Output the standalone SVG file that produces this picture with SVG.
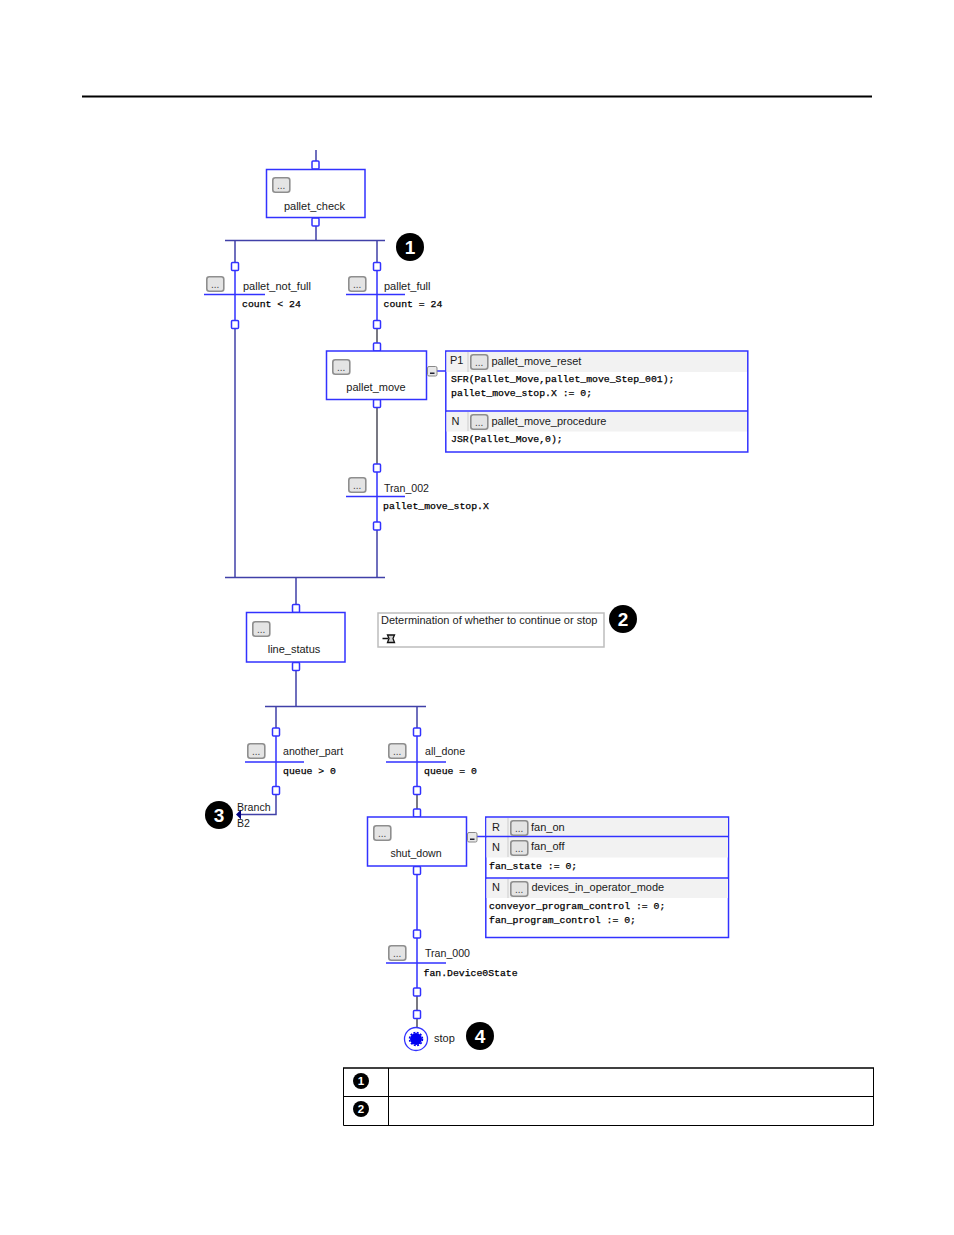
<svg xmlns="http://www.w3.org/2000/svg" xmlns:xlink="http://www.w3.org/1999/xlink" width="954" height="1235" viewBox="0 0 954 1235">
<style>
text{font-family:"Liberation Sans",Arial,sans-serif;font-size:11px;fill:#1a1a1a}
.n{font-size:10.6px}
.code{font-family:"Liberation Mono","Courier New",monospace;font-size:9.8px;fill:#000;stroke:#000;stroke-width:0.25}
.box{fill:#fff;stroke:#3232ff;stroke-width:1.5}
.port{fill:#fff;stroke:#3232ff;stroke-width:1.5}
.b{fill:none;stroke:#3232ff;stroke-width:1.5}
.r{fill:none;stroke:#4040a8;stroke-width:1.5}
.d{fill:none;stroke:#40404f;stroke-width:1.4}
.hd{fill:#f2f2f2}
.sep{stroke:#d8d8d8;stroke-width:1.5}
.num{font-weight:bold;font-size:19px;fill:#fff;text-anchor:middle}
.num2{font-weight:bold;font-size:11.5px;fill:#fff;text-anchor:middle}
.c{text-anchor:middle}
</style>
<defs>
<g id="btn"><rect x="0.8" y="0.8" width="17" height="14.4" rx="2.5" fill="#e4e4e4" stroke="#8e8e8e" stroke-width="1.6"/><text x="9.2" y="11.5" class="c" style="font-size:10px;fill:#444">...</text></g>
<g id="mini"><rect x="0.5" y="0.5" width="9.5" height="9.5" rx="1.5" fill="#e8e8e8" stroke="#888"/><rect x="3" y="6.500" width="4.500" height="1.500" fill="#223"/></g>
<rect id="p" x="-3.500" y="-4" width="7" height="8" rx="1" class="port"/>
</defs>
<line x1="82" y1="96.500" x2="872" y2="96.500" stroke="#000" stroke-width="2"/>

<g id="connectors">
<path class="r" d="M316 150V162M316 226V240M225 240.500H385M235 240V262M377 240V262"/>
<path class="b" d="M235 271V320M204 294.500H265M377 271V320M346 294.500H405"/>
<path class="d" d="M377 329V343M377 407V464"/>
<path class="r" d="M235 329V577"/>
<path class="b" d="M377 472V522M346 496.500H405"/>
<path class="r" d="M377 530V577M225 577.500H385M296 578V605M296 671V706M265 706.500H426M276 707V728M417 707V728"/>
<path class="b" d="M276 736V787M245 762H304M417 736V787M386 762H446"/>
<path class="r" d="M276 795V814.500H240"/>
<path fill="#000080" d="M236 814.500L241 809.500V819.500Z"/>
<path class="d" d="M417 795V809"/>
<path class="b" d="M417 874V930M417 938V988M386 963H446"/>
<path class="d" d="M417 996V1011M417 1019V1028"/>
<path class="b" d="M437 371H446M477 836.500H486"/>
</g>

<g id="ports">
<use xlink:href="#p" x="315.500" y="165"/><use xlink:href="#p" x="315.500" y="222"/>
<use xlink:href="#p" x="235" y="266.500"/><use xlink:href="#p" x="235" y="324.500"/>
<use xlink:href="#p" x="377" y="266.500"/><use xlink:href="#p" x="377" y="324.500"/>
<use xlink:href="#p" x="377" y="347"/><use xlink:href="#p" x="377" y="403.500"/>
<use xlink:href="#p" x="377" y="468"/><use xlink:href="#p" x="377" y="526"/>
<use xlink:href="#p" x="296" y="608.500"/><use xlink:href="#p" x="296" y="666.500"/>
<use xlink:href="#p" x="276" y="732"/><use xlink:href="#p" x="276" y="790.500"/>
<use xlink:href="#p" x="417" y="732"/><use xlink:href="#p" x="417" y="790.500"/>
<use xlink:href="#p" x="417" y="813"/><use xlink:href="#p" x="417" y="870.500"/>
<use xlink:href="#p" x="417" y="934"/><use xlink:href="#p" x="417" y="992"/>
<use xlink:href="#p" x="417" y="1014.500"/>
</g>

<g id="pallet_check"><rect class="box" x="266.500" y="169.500" width="98.500" height="48"/><use xlink:href="#btn" x="272" y="177"/><text class="c" x="314.500" y="210">pallet_check</text></g>
<g id="pallet_not_full"><use xlink:href="#btn" x="206" y="276"/><text x="243" y="290">pallet_not_full</text><text class="code" x="242" y="307">count &lt; 24</text></g>
<g id="pallet_full"><use xlink:href="#btn" x="348" y="276"/><text x="384" y="290">pallet_full</text><text class="code" x="383.500" y="307">count = 24</text></g>
<g id="marker1"><circle cx="410" cy="247" r="14" fill="#000"/><text class="num" x="410" y="253.500">1</text></g>

<g id="pallet_move"><rect class="box" x="326.500" y="351" width="100" height="48.500"/><use xlink:href="#btn" x="332" y="359"/><text class="c" x="376" y="391">pallet_move</text><use xlink:href="#mini" x="427" y="366"/></g>
<g id="pallet_move_actions">
<rect class="box" x="445.800" y="351" width="302" height="101"/>
<rect class="hd" x="446.500" y="352" width="300.500" height="20"/><rect class="hd" x="446.500" y="412" width="300.500" height="19.500"/>
<line class="sep" x1="468" y1="352" x2="468" y2="372"/><line class="sep" x1="468" y1="412" x2="468" y2="431"/>
<line x1="446" y1="411" x2="748" y2="411" stroke="#3232ff" stroke-width="1.500"/>
<text x="450" y="364">P1</text><use xlink:href="#btn" x="470" y="354"/><text x="491.500" y="365">pallet_move_reset</text>
<text class="code" x="451" y="382">SFR(Pallet_Move,pallet_move_Step_001);</text>
<text class="code" x="451" y="396">pallet_move_stop.X := 0;</text>
<text x="451.500" y="425">N</text><use xlink:href="#btn" x="470" y="414"/><text x="491.500" y="425">pallet_move_procedure</text>
<text class="code" x="451" y="442">JSR(Pallet_Move,0);</text>
</g>
<g id="tran_002"><use xlink:href="#btn" x="348" y="477"/><text class="n" x="384" y="492">Tran_002</text><text class="code" x="383" y="509">pallet_move_stop.X</text></g>

<g id="line_status"><rect class="box" x="246.500" y="612.500" width="98.500" height="49.500"/><use xlink:href="#btn" x="252" y="621"/><text class="c" x="294" y="653">line_status</text></g>
<g id="comment"><rect x="378" y="613" width="226" height="34" fill="#fff" stroke="#bdbdbd" stroke-width="1.500"/><text x="381" y="624">Determination of whether to continue or stop</text>
<path d="M382.500 638.500H388M387.500 635H394.500L393 638.500L394.500 642.500H387.500L389 638.500Z" fill="#cfcfcf" stroke="#111" stroke-width="1.300"/></g>
<g id="marker2"><circle cx="623" cy="619" r="14" fill="#000"/><text class="num" x="623" y="625.500">2</text></g>

<g id="another_part"><use xlink:href="#btn" x="247" y="743"/><text class="n" x="283" y="755">another_part</text><text class="code" x="283" y="774">queue &gt; 0</text></g>
<g id="all_done"><use xlink:href="#btn" x="388" y="743"/><text class="n" x="425" y="755">all_done</text><text class="code" x="424" y="774">queue = 0</text></g>
<g id="branch"><text class="n" x="237" y="811">Branch</text><text class="n" x="237" y="827">B2</text></g>
<g id="marker3"><circle cx="219" cy="815" r="14" fill="#000"/><text class="num" x="219" y="821.500">3</text></g>

<g id="shut_down"><rect class="box" x="367.500" y="817" width="99" height="49"/><use xlink:href="#btn" x="373" y="825"/><text class="c n" x="416" y="857">shut_down</text><use xlink:href="#mini" x="467" y="832"/></g>
<g id="shut_down_actions">
<rect class="box" x="485.800" y="817" width="242.700" height="120.500"/>
<rect class="hd" x="486.500" y="818" width="241.500" height="18"/><rect class="hd" x="486.500" y="837.500" width="241.500" height="20"/><rect class="hd" x="486.500" y="879" width="241.500" height="19"/>
<line class="sep" x1="508" y1="818" x2="508" y2="857"/><line class="sep" x1="508" y1="879" x2="508" y2="898"/>
<path d="M486 836.500H728M486 878H728" stroke="#3232ff" stroke-width="1.500" fill="none"/>
<text x="492" y="831">R</text><use xlink:href="#btn" x="510" y="820"/><text x="531" y="831">fan_on</text>
<text x="492" y="851">N</text><use xlink:href="#btn" x="510" y="840"/><text x="531" y="850">fan_off</text>
<text class="code" x="489" y="869">fan_state := 0;</text>
<text x="492" y="891">N</text><use xlink:href="#btn" x="510" y="881"/><text x="531.500" y="891">devices_in_operator_mode</text>
<text class="code" x="489" y="909">conveyor_program_control := 0;</text>
<text class="code" x="489" y="923">fan_program_control := 0;</text>
</g>
<g id="tran_000"><use xlink:href="#btn" x="388" y="945"/><text class="n" x="425" y="957">Tran_000</text><text class="code" x="423.500" y="976">fan.Device0State</text></g>
<g id="stop"><circle cx="416" cy="1039" r="11.500" fill="#fff" stroke="#3232ff" stroke-width="1.300"/><circle cx="416" cy="1039" r="6" fill="#0000f0"/><circle cx="416" cy="1039" r="6.500" fill="none" stroke="#0000f0" stroke-width="1.500" stroke-dasharray="2 1.400"/><text x="434" y="1042">stop</text></g>
<g id="marker4"><circle cx="480" cy="1036" r="14" fill="#000"/><text class="num" x="480" y="1042.500">4</text></g>

<g id="legend">
<path d="M343.500 1068V1125.500H873.500V1068M388.500 1068V1125.500M343.500 1096.500H873.500" fill="none" stroke="#000"/>
<line x1="343" y1="1068" x2="874" y2="1068" stroke="#000" stroke-width="1.600"/>
<circle cx="361" cy="1081" r="8" fill="#000"/><text class="num2" x="361" y="1085">1</text>
<circle cx="361" cy="1109" r="8" fill="#000"/><text class="num2" x="361" y="1113">2</text>
</g>
</svg>
